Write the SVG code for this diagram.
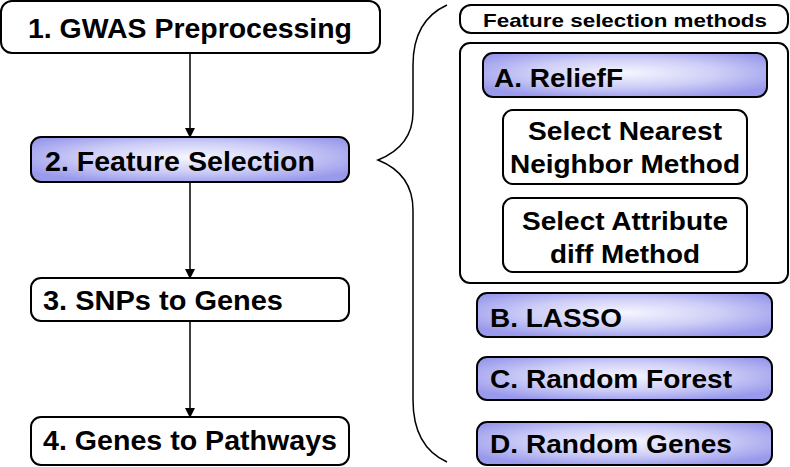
<svg xmlns="http://www.w3.org/2000/svg" width="790" height="467" viewBox="0 0 790 467">
<style>
.box{fill:#fff;stroke:#000;stroke-width:2}
.hl{fill:url(#lav);stroke:#000;stroke-width:2}
.t{font-family:"Liberation Sans",Arial,sans-serif;font-weight:bold;fill:#000}
.big{font-size:27px}
.mid{font-size:25px}
.sm{font-size:19px}
.conn{stroke:#000;stroke-width:1.5;fill:none}
</style>
<defs>
<radialGradient id="lav" cx="0.5" cy="0.45" r="0.6">
<stop offset="0" stop-color="#f6f6ff"/>
<stop offset="0.55" stop-color="#cdcdf7"/>
<stop offset="1" stop-color="#9a9aec"/>
</radialGradient>
<marker id="ah" markerWidth="10" markerHeight="12" refX="9" refY="5" orient="auto" markerUnits="userSpaceOnUse">
<path d="M0,0 L10,5 L0,10 z" fill="#000"/>
</marker>
</defs>
<g id="connectors">
<line class="conn" x1="190" y1="53" x2="190" y2="137" marker-end="url(#ah)"/>
<line class="conn" x1="190" y1="182" x2="190" y2="278" marker-end="url(#ah)"/>
<line class="conn" x1="190" y1="321" x2="190" y2="417" marker-end="url(#ah)"/>
<path class="conn" d="M447,5 C425,15 413,35 413,65 L413,112 C413,138 398,152 378,160 C398,168 413,182 413,210 L413,400 C413,432 425,452 447,462"/>
</g>
<g id="n1">
<rect class="box" x="1" y="1" width="379" height="52" rx="11"/>
<text class="t big" x="28" y="38" textLength="324" lengthAdjust="spacingAndGlyphs">1.  GWAS Preprocessing</text>
</g>
<g id="n2">
<rect class="hl" x="31" y="137" width="318" height="45" rx="10"/>
<text class="t big" x="45" y="171" textLength="270" lengthAdjust="spacingAndGlyphs">2.  Feature Selection</text>
</g>
<g id="n3">
<rect class="box" x="31" y="278" width="318" height="43" rx="10"/>
<text class="t big" x="43" y="310" textLength="240" lengthAdjust="spacingAndGlyphs">3.  SNPs to Genes</text>
</g>
<g id="n4">
<rect class="box" x="31" y="417" width="318" height="48" rx="10"/>
<text class="t big" x="43" y="450" textLength="294" lengthAdjust="spacingAndGlyphs">4.  Genes to Pathways</text>
</g>
<g id="methods-title">
<rect class="box" x="460" y="5" width="328" height="28" rx="11"/>
<text class="t sm" x="483" y="27" textLength="284" lengthAdjust="spacingAndGlyphs">Feature selection methods</text>
</g>
<g id="relieff-group">
<rect class="box" x="460" y="43" width="328" height="240" rx="10"/>
</g>
<g id="nA">
<rect class="hl" x="483" y="53" width="284" height="44" rx="10"/>
<text class="t mid" x="494" y="87" textLength="129" lengthAdjust="spacingAndGlyphs">A. ReliefF</text>
</g>
<g id="nNN">
<rect class="box" x="503" y="110" width="244" height="74" rx="10"/>
<text class="t mid" x="625" y="140" text-anchor="middle" textLength="194" lengthAdjust="spacingAndGlyphs">Select Nearest</text>
<text class="t mid" x="625" y="173" text-anchor="middle" textLength="230" lengthAdjust="spacingAndGlyphs">Neighbor Method</text>
</g>
<g id="nAD">
<rect class="box" x="503" y="198" width="244" height="74" rx="10"/>
<text class="t mid" x="625" y="230" text-anchor="middle" textLength="206" lengthAdjust="spacingAndGlyphs">Select Attribute</text>
<text class="t mid" x="625" y="263" text-anchor="middle" textLength="150" lengthAdjust="spacingAndGlyphs">diff Method</text>
</g>
<g id="nB">
<rect class="hl" x="477" y="293" width="295" height="44" rx="10"/>
<text class="t mid" x="490" y="327" textLength="132" lengthAdjust="spacingAndGlyphs">B. LASSO</text>
</g>
<g id="nC">
<rect class="hl" x="477" y="357" width="295" height="43" rx="10"/>
<text class="t mid" x="490" y="388" textLength="242" lengthAdjust="spacingAndGlyphs">C. Random Forest</text>
</g>
<g id="nD">
<rect class="hl" x="477" y="422" width="295" height="43" rx="10"/>
<text class="t mid" x="490" y="453" textLength="242" lengthAdjust="spacingAndGlyphs">D. Random Genes</text>
</g>
</svg>
